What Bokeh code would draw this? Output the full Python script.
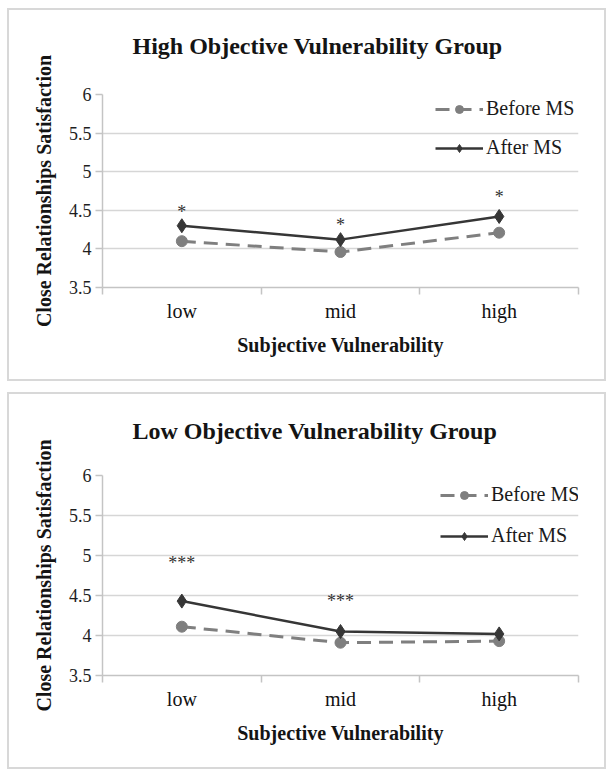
from bokeh.plotting import figure
from bokeh.models import (Range1d, FactorRange, LinearAxis, FixedTicker,
                          CustomJSTickFormatter, Legend, LegendItem, Grid, Title)
from bokeh.layouts import column
from bokeh.embed import file_html
from bokeh.resources import INLINE
from bokeh.core.properties import value

# ---------------- data ----------------
categories = ["low", "mid", "high"]
y_ticks = [3.5, 4, 4.5, 5, 5.5, 6]
series_names = ["Before MS", "After MS"]

high_title = "High Objective Vulnerability Group"
high_before = [4.10, 3.96, 4.21]
high_after = [4.30, 4.12, 4.42]
high_sig_cats = ["low", "mid", "high"]
high_sig_labels = ["*", "*", "*"]
high_sig_y = [4.53, 4.36, 4.73]

low_title = "Low Objective Vulnerability Group"
low_before = [4.11, 3.91, 3.93]
low_after = [4.43, 4.05, 4.02]
low_sig_cats = ["low", "mid"]
low_sig_labels = ["***", "***"]
low_sig_y = [4.96, 4.48]

x_label = "Subjective Vulnerability"
y_label = "Close Relationships Satisfaction"

SERIF = "'Liberation Serif', Tinos, 'Times New Roman', 'DejaVu Serif', serif"
GRID = "#d6d6d6"
AXIS = "#c4c4c4"


def make_panel(title, before, after, sig_cats, sig_labels, sig_y,
               height, b_top, b_bottom, t_standoff, gap,
               leg_x, leg_y, leg_spacing):
    p = figure(width=599, height=height,
               x_range=FactorRange(*categories), y_range=Range1d(3.5, 6),
               output_backend="svg", toolbar_location=None,
               x_axis_location=None, y_axis_location=None,
               min_border_left=93, min_border_right=30,
               min_border_top=b_top, min_border_bottom=b_bottom,
               outline_line_color=None, title=title,
               styles={"border": "2px solid #d8d8d8"})
    # drop any default grids
    p.center = [r for r in p.center if not isinstance(r, Grid)]

    p.title.align = "left"
    p.title.offset = 30
    p.title.vertical_align = "top"
    p.title.standoff = t_standoff
    p.title.text_font = SERIF
    p.title.text_font_size = "24px"
    p.title.text_font_style = "bold"
    p.title.text_color = "#141414"
    # small empty spacer between the title and the plotting frame
    p.add_layout(Title(text=" ", text_font_size="1px", standoff=gap), "above")

    n = len(categories)
    xaxis = LinearAxis(
        ticker=FixedTicker(ticks=[i + 0.5 for i in range(n)],
                           minor_ticks=[i for i in range(n + 1)]),
        formatter=CustomJSTickFormatter(args=dict(cats=categories),
                                        code="return cats[Math.floor(tick)]"),
        axis_label=x_label,
        axis_line_color=AXIS, axis_line_width=1.5,
        major_tick_out=0, major_tick_in=0,
        minor_tick_out=7, minor_tick_in=0,
        minor_tick_line_color=AXIS, minor_tick_line_width=1.5,
        major_label_standoff=5,
        major_label_text_font=SERIF, major_label_text_font_size="20px",
        major_label_text_color="#111111",
        axis_label_standoff=9,
        axis_label_text_font=SERIF, axis_label_text_font_size="20px",
        axis_label_text_font_style="bold", axis_label_text_color="#141414")
    p.add_layout(xaxis, "below")

    yaxis = LinearAxis(
        ticker=FixedTicker(ticks=y_ticks),
        formatter=CustomJSTickFormatter(code="return tick.toString()"),
        axis_label=y_label,
        axis_line_color=AXIS, axis_line_width=1.5,
        major_tick_out=7, major_tick_in=0,
        major_tick_line_color=AXIS, major_tick_line_width=1.5,
        minor_tick_out=0, minor_tick_in=0,
        major_label_standoff=4,
        major_label_text_font=SERIF, major_label_text_font_size="18px",
        major_label_text_color="#1e1e1e",
        axis_label_standoff=11,
        axis_label_text_font=SERIF, axis_label_text_font_size="20px",
        axis_label_text_font_style="bold", axis_label_text_color="#141414")
    p.add_layout(yaxis, "left")

    p.add_layout(Grid(dimension=1, ticker=yaxis.ticker,
                      grid_line_color=GRID, grid_line_width=1.5))

    bl = p.line(x=categories, y=before, line_color="#7f7f7f",
                line_width=3, line_dash="14 8")
    bs = p.scatter(x=categories, y=before, marker="circle", size=11,
                   fill_color="#7f7f7f", line_color="#7f7f7f")
    al = p.line(x=categories, y=after, line_color="#363636", line_width=2.5)
    a_s = p.scatter(x=categories, y=after, marker="diamond", size=14,
                    fill_color="#363636", line_color="#363636")

    p.text(x=sig_cats, y=sig_y, text=sig_labels,
           text_font=value(SERIF), text_font_size="18px",
           text_align="center", text_baseline="middle", y_offset=4,
           text_color="#333333")

    legend = Legend(
        items=[LegendItem(label=series_names[0], renderers=[bl, bs]),
               LegendItem(label=series_names[1], renderers=[al, a_s])],
        location=(leg_x, leg_y), orientation="vertical",
        glyph_width=48, glyph_height=20, label_height=20,
        label_standoff=3, spacing=leg_spacing, padding=0, margin=0,
        border_line_color=None, background_fill_alpha=0,
        label_text_font=SERIF, label_text_font_size="20px",
        label_text_color="#1a1a1a")
    p.add_layout(legend)
    return p


p1 = make_panel(high_title, high_before, high_after, high_sig_cats,
                high_sig_labels, high_sig_y,
                height=373, b_top=82, b_bottom=96, t_standoff=44, gap=9,
                leg_x=333, leg_y=128, leg_spacing=16)
p2 = make_panel(low_title, low_before, low_after, low_sig_cats,
                low_sig_labels, low_sig_y,
                height=377, b_top=79, b_bottom=96, t_standoff=46, gap=4,
                leg_x=338, leg_y=128, leg_spacing=18)

layout = column(p1, p2, spacing=11, margin=(8, 0, 0, 7))

with open("out.html", "w") as f:
    f.write(file_html(layout, INLINE))
